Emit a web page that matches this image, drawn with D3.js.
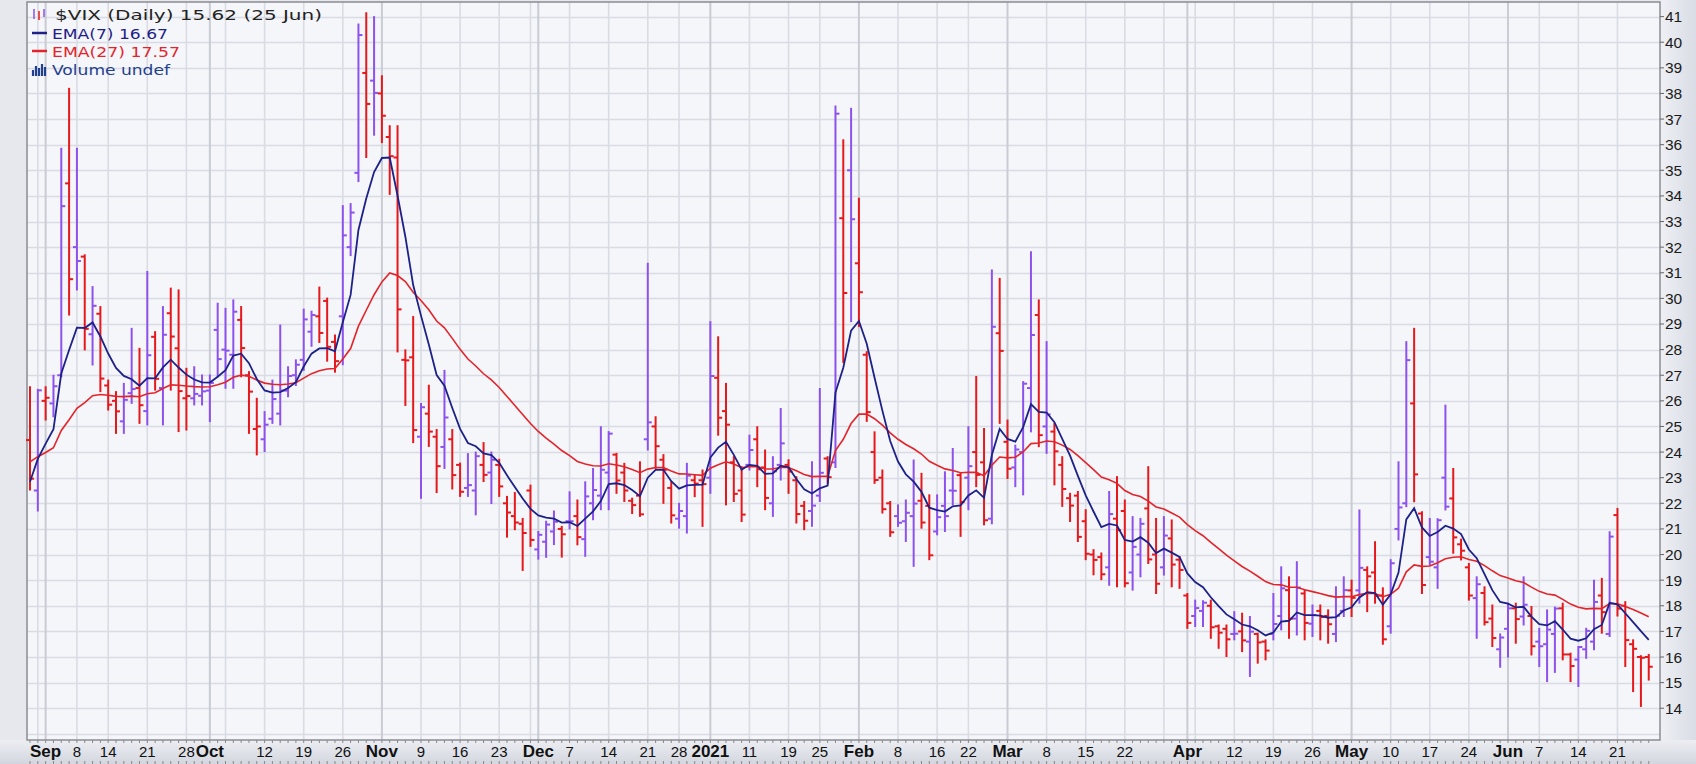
<!DOCTYPE html>
<html><head><meta charset="utf-8">
<script src="https://cdn.jsdelivr.net/npm/d3@7"></script>
<style>html,body{margin:0;padding:0;background:#e4e6ec;}svg{display:block}</style>
</head><body>
<svg id="c" width="1696" height="764"></svg>
<script>
const dates = ["2020-08-28","2020-08-31","2020-09-01","2020-09-02","2020-09-03","2020-09-04","2020-09-08","2020-09-09","2020-09-10","2020-09-11","2020-09-14","2020-09-15","2020-09-16","2020-09-17","2020-09-18","2020-09-21","2020-09-22","2020-09-23","2020-09-24","2020-09-25","2020-09-28","2020-09-29","2020-09-30","2020-10-01","2020-10-02","2020-10-05","2020-10-06","2020-10-07","2020-10-08","2020-10-09","2020-10-12","2020-10-13","2020-10-14","2020-10-15","2020-10-16","2020-10-19","2020-10-20","2020-10-21","2020-10-22","2020-10-23","2020-10-26","2020-10-27","2020-10-28","2020-10-29","2020-10-30","2020-11-02","2020-11-03","2020-11-04","2020-11-05","2020-11-06","2020-11-09","2020-11-10","2020-11-11","2020-11-12","2020-11-13","2020-11-16","2020-11-17","2020-11-18","2020-11-19","2020-11-20","2020-11-23","2020-11-24","2020-11-25","2020-11-27","2020-11-30","2020-12-01","2020-12-02","2020-12-03","2020-12-04","2020-12-07","2020-12-08","2020-12-09","2020-12-10","2020-12-11","2020-12-14","2020-12-15","2020-12-16","2020-12-17","2020-12-18","2020-12-21","2020-12-22","2020-12-23","2020-12-24","2020-12-28","2020-12-29","2020-12-30","2020-12-31","2021-01-04","2021-01-05","2021-01-06","2021-01-07","2021-01-08","2021-01-11","2021-01-12","2021-01-13","2021-01-14","2021-01-15","2021-01-19","2021-01-20","2021-01-21","2021-01-22","2021-01-25","2021-01-26","2021-01-27","2021-01-28","2021-01-29","2021-02-01","2021-02-02","2021-02-03","2021-02-04","2021-02-05","2021-02-08","2021-02-09","2021-02-10","2021-02-11","2021-02-12","2021-02-16","2021-02-17","2021-02-18","2021-02-19","2021-02-22","2021-02-23","2021-02-24","2021-02-25","2021-02-26","2021-03-01","2021-03-02","2021-03-03","2021-03-04","2021-03-05","2021-03-08","2021-03-09","2021-03-10","2021-03-11","2021-03-12","2021-03-15","2021-03-16","2021-03-17","2021-03-18","2021-03-19","2021-03-22","2021-03-23","2021-03-24","2021-03-25","2021-03-26","2021-03-29","2021-03-30","2021-03-31","2021-04-01","2021-04-05","2021-04-06","2021-04-07","2021-04-08","2021-04-09","2021-04-12","2021-04-13","2021-04-14","2021-04-15","2021-04-16","2021-04-19","2021-04-20","2021-04-21","2021-04-22","2021-04-23","2021-04-26","2021-04-27","2021-04-28","2021-04-29","2021-04-30","2021-05-03","2021-05-04","2021-05-05","2021-05-06","2021-05-07","2021-05-10","2021-05-11","2021-05-12","2021-05-13","2021-05-14","2021-05-17","2021-05-18","2021-05-19","2021-05-20","2021-05-21","2021-05-24","2021-05-25","2021-05-26","2021-05-27","2021-05-28","2021-06-01","2021-06-02","2021-06-03","2021-06-04","2021-06-07","2021-06-08","2021-06-09","2021-06-10","2021-06-11","2021-06-14","2021-06-15","2021-06-16","2021-06-17","2021-06-18","2021-06-21","2021-06-22","2021-06-23","2021-06-24","2021-06-25"];
const open = [24.47,22.5,26.0,25.9,27.0,34.49,32.0,31.63,28.6,29.4,26.6,26.0,25.2,26.3,26.5,25.6,28.5,26.5,29.42,28.05,26.1,26.1,26.2,26.4,28.77,28.0,27.8,29.16,27.0,24.9,24.5,25.3,25.5,26.4,27.0,27.6,28.7,29.3,29.9,28.3,29.3,32.0,34.9,38.8,38.5,38.0,36.3,35.5,27.6,27.7,24.6,25.5,24.6,24.2,24.5,23.5,22.6,22.5,23.5,23.2,23.5,22.0,21.5,21.2,22.5,20.2,20.5,20.9,21.0,21.3,21.5,20.6,22.0,22.3,23.2,23.9,23.2,22.1,22.3,24.5,25.0,23.7,22.6,21.4,21.5,22.9,22.9,23.0,26.9,25.6,23.6,22.5,23.5,24.5,23.4,22.0,23.5,23.5,22.9,21.9,21.7,22.3,23.75,23.6,33.13,35.0,31.37,27.8,24.0,23.0,22.0,21.5,21.3,21.5,22.1,21.9,20.9,21.9,22.5,23.1,23.0,24.0,23.6,21.4,28.64,24.4,23.4,24.0,26.5,29.35,25.0,24.8,23.5,22.2,22.3,21.3,20.0,19.9,19.5,21.4,21.7,19.3,20.0,21.8,20.0,19.5,20.63,19.8,18.4,17.6,17.8,18.0,17.2,17.1,16.9,17.0,16.6,16.9,16.6,16.9,17.6,18.61,17.5,18.48,17.3,17.8,17.6,16.9,17.8,18.6,18.6,19.4,19.3,18.4,17.2,21.0,22.0,25.9,21.6,19.9,19.5,23.0,22.19,20.4,19.5,18.3,18.5,17.5,16.3,17.1,17.9,17.58,17.6,16.6,16.5,16.9,17.9,16.1,15.9,16.3,16.6,18.4,16.9,21.54,18.0,16.5,16.0,16.0];
const high = [26.55,26.45,26.55,27.0,35.86,38.2,35.86,31.7,30.46,29.68,26.81,26.36,26.68,28.83,28.05,31.05,28.7,29.68,30.4,30.33,27.27,27.33,27.01,27.01,29.81,29.61,29.94,29.68,27.14,26.1,25.58,26.81,28.96,27.33,27.6,29.58,29.5,30.44,30.01,28.57,33.62,33.7,40.71,41.15,41.0,38.69,36.74,36.74,27.99,29.29,25.9,26.61,24.88,27.19,24.88,23.57,23.94,24.0,24.37,24.0,23.72,22.27,22.42,21.41,22.71,20.9,21.3,21.7,21.1,22.45,22.13,22.84,23.36,24.99,24.8,23.95,23.56,22.2,23.62,31.37,25.38,23.9,22.84,22.0,23.56,23.1,23.3,29.09,28.5,26.68,23.82,23.43,24.66,24.99,24.08,23.82,25.7,23.7,23.04,22.07,23.62,26.48,23.82,37.51,36.19,37.42,33.91,27.92,24.79,23.3,22.07,21.94,22.13,23.69,23.17,22.33,22.33,23.23,24.14,23.17,24.99,26.95,24.92,31.11,30.78,25.25,24.27,26.75,31.82,29.94,28.31,25.12,23.82,22.39,22.46,21.75,20.19,20.06,22.46,23.04,22.13,21.48,21.41,23.43,21.41,21.48,21.35,19.92,18.48,18.22,18.2,18.22,17.25,17.25,17.77,17.71,17.58,16.93,16.67,18.48,19.52,19.13,19.72,18.61,18.03,18.03,17.84,18.74,19.13,19.0,21.74,19.52,20.5,18.7,19.8,23.62,28.31,28.83,21.67,21.41,21.4,25.83,23.36,20.6,19.65,19.13,18.74,18.03,16.9,18.1,18.1,19.13,17.97,17.12,17.84,17.95,18.1,16.15,16.41,17.12,19.0,19.07,20.89,21.8,18.16,16.67,16.05,16.1];
const low = [22.52,21.7,25.25,25.38,26.94,29.35,30.33,27.99,27.4,26.36,25.64,24.73,24.73,25.9,25.12,25.06,26.42,25.06,26.42,24.8,24.86,25.84,25.84,25.19,26.94,26.49,26.49,26.94,24.73,23.89,24.02,25.12,25.06,26.16,26.6,27.19,28.13,28.28,27.55,27.12,27.41,31.67,34.56,35.5,36.37,36.08,34.06,27.91,25.82,24.37,22.2,24.22,22.42,23.36,22.56,22.27,22.27,21.55,22.85,21.99,22.27,20.68,20.97,19.38,20.32,19.82,19.89,20.39,19.9,21.0,20.38,19.93,21.36,21.75,21.75,22.39,22.07,21.6,21.49,24.08,23.36,22.0,21.23,21.03,20.84,22.26,21.1,22.39,24.66,21.94,22.07,21.29,23.3,22.65,21.75,21.49,22.91,22.39,21.23,20.97,21.1,22.07,22.78,23.4,27.5,29.09,28.9,25.2,22.78,21.62,20.71,21.1,20.51,19.54,21.03,19.8,20.77,20.9,21.94,20.71,21.75,22.65,21.16,21.2,25.12,22.97,22.65,22.33,24.79,24.21,23.95,22.72,21.88,21.29,20.51,19.8,19.21,19.02,18.8,18.74,18.74,18.61,19.13,19.65,18.48,19.2,18.74,18.68,17.12,17.19,17.19,16.73,16.34,16.02,16.67,16.21,15.24,15.76,15.89,16.67,17.06,16.73,16.86,16.67,16.8,16.67,16.54,16.6,17.58,17.58,18.1,17.77,18.1,16.5,16.93,20.57,21.87,22.06,18.48,19.59,18.68,21.74,20.05,19.79,18.22,16.73,17.25,16.41,15.6,16.0,16.54,17.25,16.08,15.63,15.04,15.4,15.89,15.04,14.85,15.95,16.28,16.93,16.8,17.6,15.63,14.65,14.07,15.1];
const close = [22.96,26.41,26.12,26.57,33.60,30.75,31.46,28.81,29.71,26.87,25.85,25.59,26.04,26.46,25.83,27.78,26.86,28.58,28.51,26.38,26.19,26.27,26.37,26.70,27.63,27.96,29.48,28.06,26.36,25.00,25.07,26.07,26.40,26.97,27.41,29.18,29.35,28.65,28.11,27.55,32.46,33.35,40.28,37.59,38.02,37.13,35.55,29.57,27.58,24.86,25.75,24.80,23.45,25.35,23.10,22.45,22.71,23.84,23.11,23.70,22.66,21.64,21.25,20.84,20.57,20.77,21.17,21.28,20.79,21.30,20.68,22.27,22.52,23.31,24.72,22.89,22.50,21.93,21.57,25.16,24.23,23.31,21.53,21.70,23.08,22.77,22.75,26.97,25.34,25.07,22.37,21.56,24.08,23.33,22.21,23.25,24.34,23.24,21.58,21.32,21.91,23.19,23.02,37.21,30.21,33.09,30.24,25.56,22.91,21.77,20.87,21.24,21.63,21.99,21.25,19.97,21.46,21.50,22.49,22.05,23.45,23.11,21.34,28.89,27.95,23.35,24.10,26.67,28.57,24.66,25.47,24.03,22.56,21.91,20.69,20.03,19.79,19.23,21.58,20.95,18.88,20.30,21.20,19.81,18.86,20.74,19.61,19.40,17.33,17.91,18.12,17.16,16.95,16.69,16.91,16.65,16.99,16.57,16.25,17.29,18.68,17.50,18.71,17.33,17.64,17.56,17.28,17.61,18.61,18.31,19.48,19.15,18.39,16.69,19.66,21.84,27.59,23.13,18.81,19.72,21.34,21.87,20.67,20.15,18.40,18.84,17.36,16.74,16.76,17.90,17.48,18.04,16.42,16.42,17.07,17.89,16.10,15.65,16.39,17.02,18.15,17.75,20.70,17.89,16.66,16.32,15.97,15.62];
const prevClose = 24.47;

const yTickValues = d3.range(14, 42);
const xTickDates = ["2020-09-01","2020-09-08","2020-09-14","2020-09-21","2020-09-28","2020-10-01","2020-10-12","2020-10-19","2020-10-26","2020-11-02","2020-11-09","2020-11-16","2020-11-23","2020-12-01","2020-12-07","2020-12-14","2020-12-21","2020-12-28","2021-01-04","2021-01-11","2021-01-19","2021-01-25","2021-02-01","2021-02-08","2021-02-16","2021-02-22","2021-03-01","2021-03-08","2021-03-15","2021-03-22","2021-04-01","2021-04-12","2021-04-19","2021-04-26","2021-05-03","2021-05-10","2021-05-17","2021-05-24","2021-06-01","2021-06-07","2021-06-14","2021-06-21"];
const xTickLabels = ["Sep","8","14","21","28","Oct","12","19","26","Nov","9","16","23","Dec","7","14","21","28","2021","11","19","25","Feb","8","16","22","Mar","8","15","22","Apr","12","19","26","May","10","17","24","Jun","7","14","21"];
const emaSeed = {7: 22.84, 27: 23.62};
const legendLines = ["$VIX (Daily) 15.62 (25 Jun)","EMA(7) 16.67","EMA(27) 17.57","Volume undef"];

const W=1696,H=764, L=27, R=1660, T=2, B=740;
const svg = d3.select("#c");
const defs = svg.append("defs");
const gb = defs.append("linearGradient").attr("id","gb").attr("x1",0).attr("y1",0).attr("x2",0).attr("y2",1);
gb.append("stop").attr("offset","0").attr("stop-color","#eceef3");
gb.append("stop").attr("offset","1").attr("stop-color","#d3d6de");
const gr = defs.append("linearGradient").attr("id","gr").attr("x1",0).attr("y1",0).attr("x2",1).attr("y2",0);
gr.append("stop").attr("offset","0").attr("stop-color","#eef0f5");
gr.append("stop").attr("offset","1").attr("stop-color","#d9dce4");
svg.append("rect").attr("width",W).attr("height",H).attr("fill","#e6e8ee");
svg.append("rect").attr("x",R).attr("y",0).attr("width",W-R).attr("height",H).attr("fill","url(#gr)");
svg.append("rect").attr("x",0).attr("y",B).attr("width",W).attr("height",H-B).attr("fill","url(#gb)");
svg.append("rect").attr("x",L).attr("y",T).attr("width",R-L).attr("height",B-T).attr("fill","#f5f6fa");

const x = d3.scalePoint().domain(dates).range([30, 30+7.82*(dates.length-1)]);
const y = d3.scaleLinear().domain([12.76, 41.57]).range([B, T]);

const pd = d3.timeParse("%Y-%m-%d");
const dd = dates.map(pd);
const g = svg.append("g");
g.selectAll(".hg").data(d3.range(13, 42)).join("line")
 .attr("x1",L).attr("x2",R).attr("y1",d=>Math.round(y(d))+0.5).attr("y2",d=>Math.round(y(d))+0.5)
 .attr("stroke","#dadce3").attr("stroke-width",1.6);
const vlines = [];
dates.forEach((d,i)=>{
  if(i===0) return;
  const a=dd[i-1], b=dd[i];
  const month = a.getMonth()!==b.getMonth();
  const week = b.getDay() < a.getDay() || (b-a) > 6*864e5;
  if(month || week) vlines.push({d, month});
});
g.selectAll(".vg").data(vlines).join("line")
 .attr("x1",v=>x(v.d)).attr("x2",v=>x(v.d)).attr("y1",T).attr("y2",B)
 .attr("stroke",v=>v.month?"#c9ccd3":"#dadce3").attr("stroke-width",v=>v.month?2:1.6);

svg.append("rect").attr("x",L).attr("y",T).attr("width",R-L).attr("height",B-T)
 .attr("fill","none").attr("stroke","#8a8c93").attr("stroke-width",1.5);

function ema(n){ const k=2/(n+1); const out=[]; let e=emaSeed[n];
  close.forEach((c,i)=>{ if(i>0) e = e + k*(c-e); out.push(e);}); return out; }
const line = d3.line().x((d,i)=>x(dates[i])).y(d=>y(d));
const UP="#8d52ec", DN="#e5181c";
const bars = svg.append("g");
dates.forEach((d,i)=>{
  const pc = i? close[i-1] : prevClose;
  const col = close[i] < pc ? DN : UP;
  const cx = x(d);
  const hi = Math.max(high[i], open[i], close[i]), lo = Math.min(low[i], open[i], close[i]);
  bars.append("line").attr("x1",cx).attr("x2",cx).attr("y1",y(hi)-0.5).attr("y2",y(lo)+0.5).attr("stroke",col).attr("stroke-width",2);
  bars.append("line").attr("x1",cx-4).attr("x2",cx).attr("y1",y(open[i])).attr("y2",y(open[i])).attr("stroke",col).attr("stroke-width",2);
  bars.append("line").attr("x1",cx).attr("x2",cx+4).attr("y1",y(close[i])).attr("y2",y(close[i])).attr("stroke",col).attr("stroke-width",2);
});
svg.append("path").datum(ema(27)).attr("d",line).attr("fill","none").attr("stroke","#e3242b").attr("stroke-width",1.6);
svg.append("path").datum(ema(7)).attr("d",line).attr("fill","none").attr("stroke","#1d2188").attr("stroke-width",1.8);

const ya = svg.append("g");
ya.selectAll("line").data(yTickValues).join("line").attr("x1",R).attr("x2",R+4).attr("y1",d=>y(d)).attr("y2",d=>y(d)).attr("stroke","#666");
ya.selectAll("text").data(yTickValues).join("text").attr("x",R+5).attr("y",d=>y(d)+5.5)
 .attr("font-family","Liberation Sans, Arial, sans-serif").attr("font-size",15.5).attr("fill","#1a1a1a").text(d=>d);

const xa = svg.append("g");
xa.selectAll("line.t").data(dates).join("line").attr("class","t").attr("x1",d=>x(d)).attr("x2",d=>x(d)).attr("y1",B).attr("y2",B+3).attr("stroke","#888");
xa.selectAll("line.b").data(dates).join("line").attr("class","b").attr("x1",d=>x(d)).attr("x2",d=>x(d)).attr("y1",H-3).attr("y2",H).attr("stroke","#888");
const isBold = l => isNaN(+l) || l==="2021";
xa.selectAll("text").data(xTickDates).join("text")
 .attr("x",d=>x(d)).attr("y",757).attr("text-anchor","middle")
 .attr("font-family","Liberation Sans, Arial, sans-serif")
 .attr("font-weight",(d,i)=>isBold(xTickLabels[i]) ? "bold":"normal")
 .attr("font-size",(d,i)=>isBold(xTickLabels[i]) ? 17:15)
 .attr("fill","#111").text((d,i)=>xTickLabels[i]);

const lg = svg.append("g").attr("font-family","DejaVu Sans, Verdana, sans-serif").attr("font-size",14);
const lcol = ["#222","#1d2188","#e3242b","#1f3f90"];
const lx = [55,52,52,52], lw=[267,116,128,118], ly=[20,38.5,56.5,75];
legendLines.forEach((t,i)=>{
  lg.append("text").attr("x",lx[i]).attr("y",ly[i]).attr("fill",lcol[i]).attr("textLength",lw[i]).attr("lengthAdjust","spacingAndGlyphs").text(t);
});
lg.append("line").attr("x1",32).attr("x2",47).attr("y1",33).attr("y2",33).attr("stroke","#1d2188").attr("stroke-width",2.5);
lg.append("line").attr("x1",32).attr("x2",47).attr("y1",51).attr("y2",51).attr("stroke","#e3242b").attr("stroke-width",2.5);
[[34,9,19,UP],[39,11,20,DN],[44,9,17,UP]].forEach(b=>{
  lg.append("line").attr("x1",b[0]).attr("x2",b[0]).attr("y1",b[1]).attr("y2",b[2]).attr("stroke",b[3]).attr("stroke-width",1.5);
});
[[33,70,76],[36,66,76],[39,68,76],[42,64,76],[45,67,76]].forEach(b=>{
  lg.append("line").attr("x1",b[0]).attr("x2",b[0]).attr("y1",b[1]).attr("y2",b[2]).attr("stroke","#1f3f90").attr("stroke-width",2.2);
});
</script>
</body></html>
